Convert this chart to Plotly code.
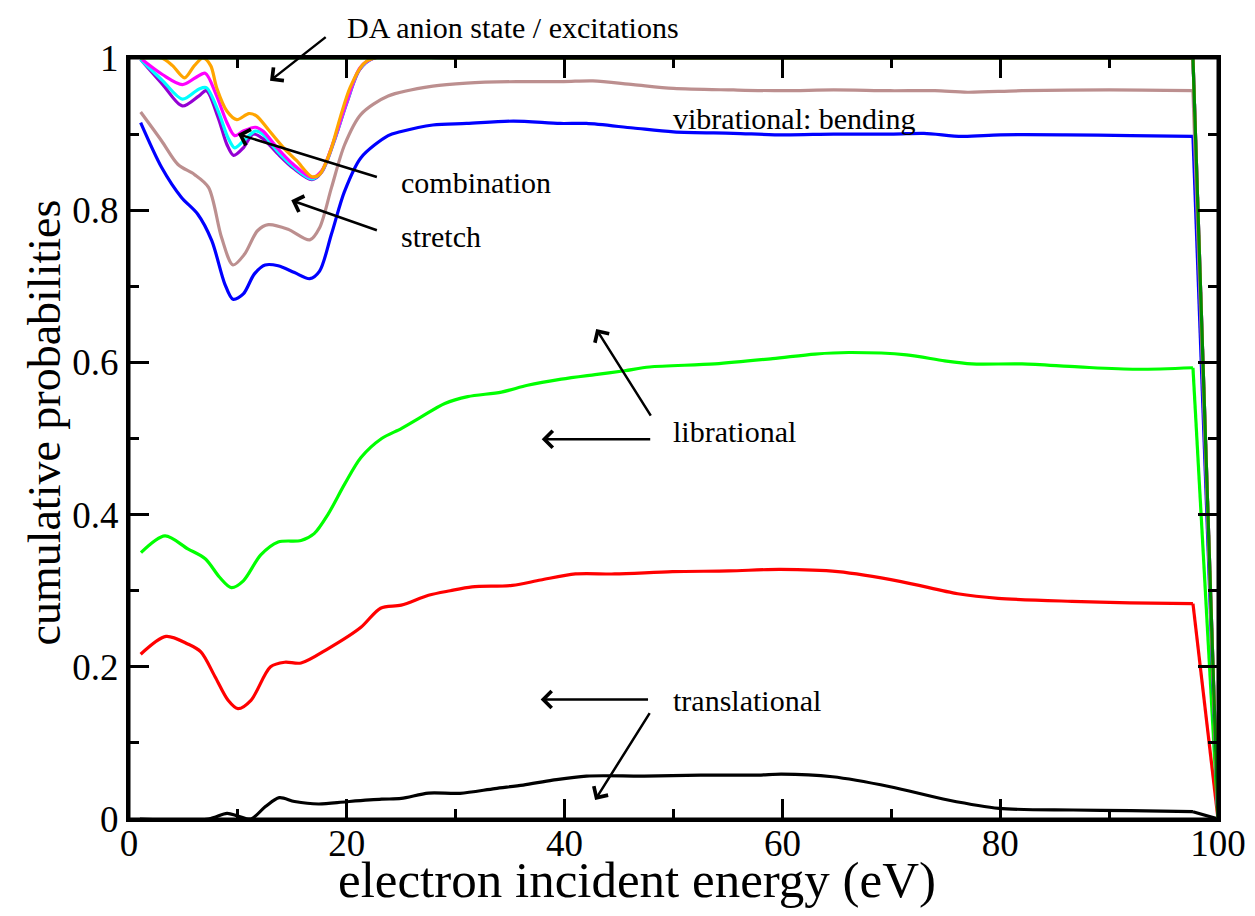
import plotly.graph_objects as go

# ---------------- data ----------------
x_black = [1.0, 7.3, 9.0, 10.0, 11.2, 12.5, 13.8, 15.2, 17.4, 20.0, 23.2, 25.0, 27.5, 30.4, 33.6, 36.2,
           38.9, 42.0, 47.3, 52.5, 57.8, 59.9, 64.6, 69.9, 75.2, 79.9, 86.7, 92.0, 97.7, 100.0]
y_black = [0.0, 0.0, 0.0074, 0.004, 0.0, 0.016, 0.028, 0.023, 0.0197, 0.0227, 0.026, 0.027, 0.034, 0.0337,
           0.040, 0.0446, 0.051, 0.0564, 0.0564, 0.0577, 0.0577, 0.059, 0.0555, 0.0424, 0.025, 0.014,
           0.0118, 0.011, 0.0096, 0.0]

x_red = [1.07, 3.4, 5.4, 6.6, 7.9, 9.1, 10.0, 11.2, 13.0, 14.3, 15.8, 18.3, 21.3, 23.1, 25.0, 27.5, 29.5,
         31.5, 35.2, 37.8, 41.0, 44.6, 49.9, 55.1, 59.8, 65.1, 70.9, 76.1, 79.8, 86.6, 91.9, 97.7, 100.0]
y_red = [0.2165, 0.240, 0.230, 0.2196, 0.187, 0.156, 0.145, 0.156, 0.200, 0.206, 0.205, 0.224, 0.252,
         0.277, 0.281, 0.294, 0.300, 0.305, 0.307, 0.314, 0.322, 0.322, 0.325, 0.326, 0.328, 0.325, 0.312,
         0.296, 0.290, 0.286, 0.284, 0.283, 0.0]

x_green = [1.1, 3.3, 5.4, 7.0, 8.3, 9.4, 10.5, 12.1, 13.7, 15.8, 17.0, 18.3, 19.8, 21.3, 23.2, 25.0, 26.8,
           29.0, 31.1, 34.2, 36.6, 39.7, 42.8, 45.5, 47.8, 53.8, 59.1, 63.0, 66.1, 71.4, 74.9, 77.4, 82.0,
           87.2, 92.5, 97.7, 100.0]
y_green = [0.350, 0.372, 0.355, 0.342, 0.318, 0.304, 0.313, 0.347, 0.364, 0.366, 0.375, 0.401, 0.440,
           0.475, 0.500, 0.513, 0.528, 0.546, 0.555, 0.561, 0.570, 0.578, 0.584, 0.589, 0.594, 0.598,
           0.605, 0.611, 0.613, 0.610, 0.602, 0.598, 0.598, 0.594, 0.591, 0.593, 0.0]

x_blue = [1.07, 3.0, 4.8, 6.3, 7.6, 8.8, 9.55, 10.5, 11.5, 12.5, 13.7, 15.2, 16.6, 17.5, 18.6, 19.8, 21.3,
          23.8, 24.9, 27.9, 31.0, 35.3, 39.6, 42.0, 46.3, 50.0, 55.5, 60.1, 64.7, 70.2, 73.0, 76.5, 80.0,
          86.0, 92.0, 97.7, 100.0]
y_blue = [0.915, 0.856, 0.817, 0.795, 0.760, 0.703, 0.683, 0.690, 0.716, 0.728, 0.727, 0.718, 0.710,
          0.720, 0.769, 0.825, 0.869, 0.898, 0.903, 0.912, 0.914, 0.917, 0.914, 0.914, 0.908, 0.903,
          0.901, 0.899, 0.900, 0.900, 0.901, 0.897, 0.899, 0.899, 0.898, 0.897, 0.0]

x_brown = [1.07, 3.0, 4.5, 6.0, 7.3, 8.5, 9.55, 10.6, 11.8, 12.8, 14.6, 16.6, 17.5, 18.6, 19.8, 21.3, 23.8,
           27.9, 31.0, 35.6, 39.9, 42.6, 46.3, 50.0, 55.5, 60.1, 64.7, 69.9, 74.0, 77.0, 82.0, 90.0, 97.7,
           100.0]
y_brown = [0.929, 0.891, 0.860, 0.847, 0.830, 0.764, 0.728, 0.742, 0.773, 0.781, 0.775, 0.761, 0.777,
           0.830, 0.886, 0.926, 0.950, 0.963, 0.967, 0.969, 0.969, 0.970, 0.965, 0.960, 0.958, 0.957,
           0.958, 0.957, 0.957, 0.955, 0.957, 0.958, 0.957, 0.0]

x_violet = [1.07, 3.1, 4.9, 6.4, 7.1, 8.2, 9.0, 9.6, 10.5, 11.4, 12.3, 13.6, 15.1, 16.8, 17.7, 18.8, 20.0,
            21.2, 22.5, 30.0, 97.7, 100.0]
y_violet = [0.998, 0.965, 0.937, 0.950, 0.957, 0.921, 0.886, 0.872, 0.882, 0.900, 0.894, 0.875, 0.855,
            0.840, 0.850, 0.889, 0.941, 0.985, 1.0, 1.0, 1.0, 0.0]

x_cyan = [1.07, 3.1, 4.9, 6.4, 7.1, 8.2, 9.1, 9.7, 10.5, 11.6, 12.3, 13.6, 15.1, 16.8, 17.7, 18.8, 20.0,
          21.2, 22.5, 30.0, 97.7, 100.0]
y_cyan = [0.998, 0.970, 0.946, 0.959, 0.961, 0.930, 0.895, 0.882, 0.891, 0.904, 0.900, 0.878, 0.857,
          0.841, 0.851, 0.890, 0.942, 0.986, 1.0, 1.0, 1.0, 0.0]

x_magenta = [1.2, 3.1, 4.9, 6.1, 7.0, 8.0, 9.0, 9.7, 10.5, 11.6, 12.3, 13.6, 15.1, 16.8, 17.7, 18.8, 20.0,
             21.2, 22.5, 30.0, 97.7, 100.0]
y_magenta = [0.998, 0.978, 0.965, 0.974, 0.980, 0.952, 0.915, 0.898, 0.904, 0.909, 0.904, 0.882, 0.860,
             0.843, 0.852, 0.891, 0.943, 0.987, 1.0, 1.0, 1.0, 0.0]

x_orange = [1.07, 3.0, 4.0, 5.1, 6.0, 6.8, 7.5, 8.05, 9.0, 9.9, 11.0, 11.7, 12.9, 14.2, 15.4, 16.8, 17.5,
            18.5, 19.4, 20.3, 21.5, 22.5, 30.0, 97.7, 100.0]
y_orange = [1.0, 1.0, 0.99, 0.974, 0.99, 1.0, 0.99, 0.961, 0.930, 0.919, 0.927, 0.924, 0.904, 0.882,
            0.865, 0.844, 0.847, 0.878, 0.922, 0.961, 0.992, 1.0, 1.0, 1.0, 0.0]

x_total = [1.0, 97.7, 100.0]
y_total = [1.0, 1.0, 0.0]

x_ticks = [0, 20, 40, 60, 80, 100]
y_ticks = [0, 0.2, 0.4, 0.6, 0.8, 1.0]
y_tick_text = ["0", "0.2", "0.4", "0.6", "0.8", "1"]

series = [
    (x_black, y_black, "#000000"),
    (x_red, y_red, "#ff0000"),
    (x_green, y_green, "#00ff00"),
    (x_blue, y_blue, "#0000ff"),
    (x_brown, y_brown, "#bc8f8f"),
    (x_violet, y_violet, "#9400d3"),
    (x_cyan, y_cyan, "#00ffff"),
    (x_magenta, y_magenta, "#ff00ff"),
    (x_orange, y_orange, "#ffa500"),
    (x_total, y_total, "#008b00"),
]

FONT = "Liberation Serif, Times New Roman, serif"
LW = 3.2

fig = go.Figure()
for xs, ys, col in series:
    # smooth body of the curve
    fig.add_trace(go.Scatter(x=xs[:-1], y=ys[:-1], mode="lines",
                             line=dict(color=col, width=LW, shape="spline", smoothing=0.85),
                             showlegend=False, hoverinfo="skip"))
    # final straight drop to zero
    fig.add_trace(go.Scatter(x=xs[-2:], y=ys[-2:], mode="lines",
                             line=dict(color=col, width=LW),
                             showlegend=False, hoverinfo="skip"))

ann_font = dict(family=FONT, size=30, color="black")
texts = [  # text, x, y (data coords)
    ("vibrational: bending", 49.8, 0.921),
    ("combination", 24.8, 0.836),
    ("stretch", 24.8, 0.765),
    ("librational", 49.8, 0.509),
    ("translational", 49.8, 0.156),
]
annotations = []
for t, xx, yy in texts:
    annotations.append(dict(text=t, x=xx, y=yy, xref="x", yref="y", xanchor="left", yanchor="middle",
                            showarrow=False, font=ann_font))
# text above the plot area (paper coordinates)
annotations.append(dict(text="DA anion state / excitations", x=0.198, y=1.040, xref="paper", yref="paper",
                        xanchor="left", yanchor="middle", showarrow=False, font=ann_font))

arrows = [  # (tail x, tail y, tip x, tip y)
    (18.2, 1.029, 12.95, 0.970),
    (22.9, 0.843, 10.0, 0.900),
    (22.9, 0.773, 14.9, 0.813),
    (48.0, 0.499, 37.9, 0.499),
    (48.0, 0.528, 42.9, 0.644),
    (47.8, 0.157, 37.8, 0.157),
    (47.9, 0.141, 42.8, 0.025),
]
for ax_, ay_, tx, ty in arrows:
    annotations.append(dict(x=tx, y=ty, ax=ax_, ay=ay_, xref="x", yref="y", axref="x", ayref="y",
                            text="", showarrow=True, arrowhead=4, arrowsize=1.3, arrowwidth=2.5,
                            arrowcolor="black", standoff=0))

# axis titles (positioned as in the reference)
annotations.append(dict(text="electron incident energy (eV)", x=(637 - 129) / 1089, y=-(880 - 819) / 762,
                        xref="paper", yref="paper", xanchor="center", yanchor="middle",
                        showarrow=False, font=dict(family=FONT, size=51, color="black")))
annotations.append(dict(text="cumulative probabilities", x=-(129 - 45) / 1089, y=(819 - 422) / 762,
                        xref="paper", yref="paper", xanchor="center", yanchor="middle", textangle=-90,
                        showarrow=False, font=dict(family=FONT, size=46, color="black")))

fig.update_layout(
    width=1255, height=916,
    margin=dict(l=129, r=37, t=58, b=97, autoexpand=False),
    paper_bgcolor="white", plot_bgcolor="white",
    font=dict(family=FONT, color="black"),
    annotations=annotations,
    showlegend=False,
    shapes=[dict(type="rect", xref="paper", yref="paper", x0=0, y0=0, x1=1, y1=1,
                 line=dict(color="black", width=3), layer="above")],
)
common = dict(showgrid=False, zeroline=False, showline=True, linecolor="black", linewidth=3,
              mirror="allticks", ticks="inside", ticklen=20, tickwidth=3, tickcolor="black",
              tickfont=dict(family=FONT, size=37, color="black"), automargin=False)
fig.update_xaxes(range=[0, 100], tickvals=x_ticks, ticktext=[str(v) for v in x_ticks],
                 minor=dict(dtick=10, tick0=0, ticks="inside", ticklen=10, tickwidth=3, tickcolor="black"),
                 ticklabelstandoff=-10, **common)
fig.update_yaxes(range=[0, 1], tickvals=y_ticks, ticktext=y_tick_text,
                 minor=dict(dtick=0.1, tick0=0, ticks="inside", ticklen=10, tickwidth=3, tickcolor="black"),
                 **common)

fig.write_html("out.html")
